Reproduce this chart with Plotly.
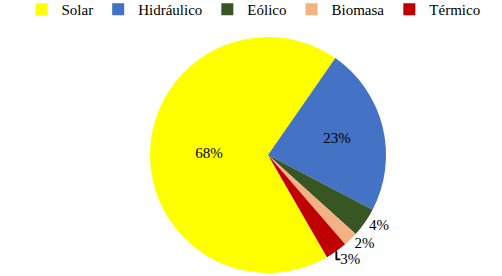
import plotly.graph_objects as go

categories = ["Solar", "Hidráulico", "Eólico", "Biomasa", "Térmico"]
values = [68, 23, 4, 2, 3]
colors = ["#FFFF00", "#4472C4", "#375623", "#F4B183", "#C00000"]
text_positions = ["inside", "inside", "outside", "outside", "outside"]

SERIF = "'Liberation Serif', 'Times New Roman', Times, serif"
label_font = dict(family=SERIF, size=15, color="black")

fig = go.Figure(go.Pie(
    labels=categories,
    values=values,
    sort=False,
    direction="clockwise",
    rotation=150,
    marker=dict(colors=colors, line=dict(color="white", width=0)),
    textinfo="percent",
    texttemplate="%{percent:.0%}",
    textposition=text_positions,
    textfont=label_font,
    insidetextfont=label_font,
    outsidetextfont=label_font,
    insidetextorientation="horizontal",
    domain=dict(x=[0.2988, 0.769], y=[0.011, 0.866]),
    showlegend=True,
))

fig.update_layout(
    width=502, height=276,
    margin=dict(l=0, r=0, t=0, b=0, autoexpand=False),
    paper_bgcolor="white",
    plot_bgcolor="white",
    font=dict(family=SERIF, size=15, color="black"),
    legend=dict(orientation="h", x=0.505, xanchor="center", y=1.025, yanchor="top",
                font=dict(family=SERIF, size=15, color="black"),
                itemwidth=30, tracegroupgap=0),
)

fig.write_html("out.html",
               config={"displayModeBar": False},
               post_script="document.body.style.margin='0';document.body.style.overflow='hidden';")
